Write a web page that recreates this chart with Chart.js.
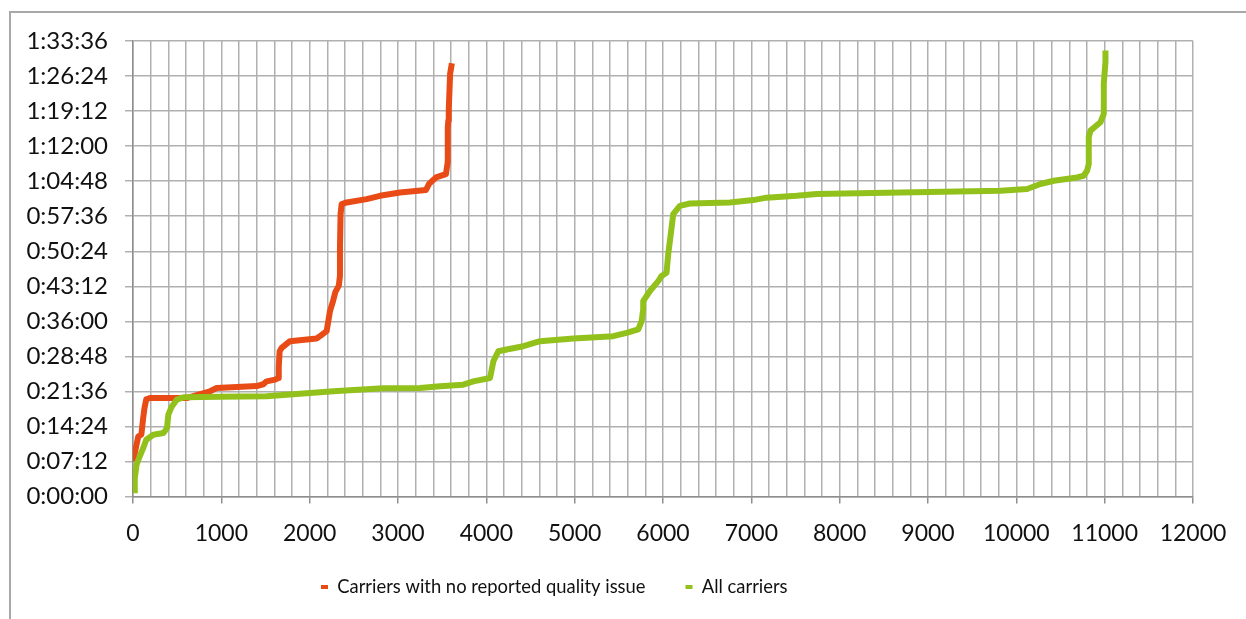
<!DOCTYPE html>
<html><head><meta charset="utf-8">
<script src="https://cdn.jsdelivr.net/npm/chart.js@4"></script>
<style>
html,body{margin:0;padding:0;background:#fff;overflow:hidden;width:1246px;height:619px;}
#frame{position:absolute;left:9px;top:11px;width:1400px;height:700px;border-left:2px solid #a8a8a8;border-top:2px solid #a8a8a8;}
#c{position:absolute;left:0;top:0;}
</style></head><body>
<div id="frame"></div>
<canvas id="c" width="1246" height="619"></canvas>
<script>
// Carriers with no reported quality issue: rank (x) and duration in seconds (y)
const redX = [10, 20, 60, 95, 115, 130, 150, 190, 400, 608, 750, 872, 947, 1060, 1400, 1475, 1513, 1608, 1645, 1650, 1660, 1683, 1777, 2079, 2117, 2192, 2230, 2262, 2290, 2330, 2343, 2343, 2350, 2362, 2419, 2645, 2796, 3022, 3317, 3355, 3430, 3543, 3562, 3562, 3565, 3570, 3575, 3590, 3610];
const redY = [430, 535, 741, 766, 968, 1091, 1199, 1215, 1215, 1215, 1260, 1298, 1339, 1345, 1362, 1385, 1421, 1442, 1462, 1600, 1792, 1833, 1916, 1949, 1978, 2039, 2287, 2400, 2520, 2600, 2720, 3069, 3482, 3605, 3626, 3667, 3708, 3749, 3780, 3860, 3934, 3975, 4119, 4289, 4548, 4635, 4780, 5212, 5343];
// All carriers
const greenX = [20, 20, 40, 75, 115, 150, 230, 345, 385, 400, 440, 495, 570, 1000, 1513, 2268, 2834, 3249, 3475, 3739, 3853, 4042, 4080, 4136, 4230, 4419, 4608, 4985, 5437, 5588, 5720, 5758, 5776, 5776, 5852, 5946, 5984, 6040, 6059, 6097, 6116, 6191, 6304, 6757, 7021, 7172, 7512, 7739, 8688, 9820, 10122, 10273, 10424, 10688, 10763, 10801, 10820, 10820, 10839, 10952, 10990, 10990, 10990, 11009, 11009];
const greenY = [41, 226, 392, 494, 597, 700, 762, 783, 844, 1010, 1112, 1195, 1224, 1230, 1236, 1298, 1335, 1339, 1360, 1380, 1421, 1462, 1669, 1792, 1813, 1854, 1916, 1949, 1978, 2018, 2060, 2163, 2307, 2410, 2534, 2657, 2719, 2760, 2987, 3316, 3482, 3584, 3613, 3626, 3655, 3685, 3708, 3729, 3749, 3770, 3791, 3853, 3893, 3934, 3955, 4017, 4100, 4429, 4511, 4614, 4718, 4923, 5089, 5356, 5500];

const seriesNames = ['Carriers with no reported quality issue', 'All carriers'];
const seriesColors = ['#E94B17', '#93C11C'];
const xMin = 0, xMax = 12000, xGridStep = 200, xLabelStep = 1000;
const yMin = 0, yMax = 5616, yStep = 432; // 0:00:00 .. 1:33:36 by 0:07:12

const fmtTime = v => {
  v = Math.round(v);
  const h = Math.floor(v / 3600), m = Math.floor((v % 3600) / 60), s = v % 60;
  return h + ':' + String(m).padStart(2, '0') + ':' + String(s).padStart(2, '0');
};
const toPts = (xs, ys) => xs.map((x, i) => ({x, y: ys[i]}));

Chart.defaults.font.family = 'Lato, "Open Sans", sans-serif';
Chart.defaults.color = '#111';

const GRID = '#b0b0b0', AXIS = '#8e8e8e';
const LEGEND_FS = 18.4;

const legendPos = {
  id: 'legendPos',
  afterLayout(chart) {
    const lg = chart.legend;
    const pad = chart.options.plugins.legend.labels.padding;
    const w = lg.right - lg.left;
    lg.left = 321 - pad; lg.right = lg.left + w;
    lg.top = 587 - LEGEND_FS / 2 - pad;
  }
};

new Chart(document.getElementById('c'), {
  type: 'scatter',
  data: {
    datasets: [
      {label: seriesNames[0], data: toPts(redX, redY), showLine: true, tension: 0,
       borderColor: seriesColors[0], backgroundColor: seriesColors[0], borderWidth: 6,
       pointRadius: 0, borderCapStyle: 'butt', borderJoinStyle: 'round', order: 1},
      {label: seriesNames[1], data: toPts(greenX, greenY), showLine: true, tension: 0,
       borderColor: seriesColors[1], backgroundColor: seriesColors[1], borderWidth: 6,
       pointRadius: 0, borderCapStyle: 'butt', borderJoinStyle: 'round', order: 0}
    ]
  },
  options: {
    responsive: false, animation: false, devicePixelRatio: 1,
    layout: {padding: {left: 0, right: 53, top: 41, bottom: 0}},
    scales: {
      x: {
        type: 'linear', min: xMin, max: xMax,
        afterFit: s => { s.height = 54; },
        border: {color: AXIS, width: 1.5},
        grid: {color: GRID, lineWidth: 1.5, drawTicks: true, tickLength: 7,
               tickColor: ctx => (ctx.tick && ctx.tick.value % xLabelStep === 0) ? AXIS : 'rgba(0,0,0,0)'},
        ticks: {stepSize: xGridStep, autoSkip: false, maxRotation: 0, padding: 16,
                font: {size: 23}, color: '#111',
                callback: v => (v % xLabelStep === 0 ? String(v) : '')}
      },
      y: {
        type: 'linear', min: yMin, max: yMax,
        afterFit: s => { s.width = 133; },
        border: {color: AXIS, width: 1.5},
        grid: {color: GRID, lineWidth: 1.5, drawTicks: true, tickLength: 8, tickColor: GRID},
        ticks: {stepSize: yStep, autoSkip: false, padding: 17, font: {size: 24}, color: '#111',
                callback: v => fmtTime(v)}
      }
    },
    plugins: {
      tooltip: {enabled: false},
      legend: {
        position: 'bottom', align: 'start',
        labels: {
          font: {size: LEGEND_FS}, color: '#111', boxWidth: 7, boxHeight: 4, padding: 40,
          generateLabels: () => seriesNames.map((t, i) => ({
            text: t, fillStyle: seriesColors[i], strokeStyle: seriesColors[i], lineWidth: 0,
            hidden: false, datasetIndex: i, fontColor: '#111'}))
        }
      }
    }
  },
  plugins: [legendPos]
});
</script>
</body></html>
